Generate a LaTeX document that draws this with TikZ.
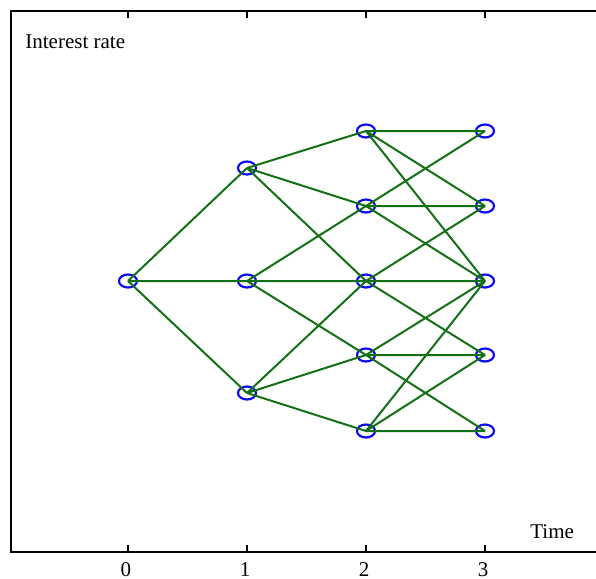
\documentclass[tikz,border=0pt]{standalone}
\usepackage{fontspec}
\setmainfont{Liberation Serif}
\usetikzlibrary{shapes.geometric}
\usepackage{xcolor}
\definecolor{branchgreen}{RGB}{20,112,20}
\definecolor{stateblue}{RGB}{10,10,245}

\begin{document}
\begin{tikzpicture}[x=0.5pt, y=-0.5pt,
    state/.style={draw=stateblue, ellipse, line width=1.1pt, minimum width=9pt,
                  minimum height=6.5pt, inner sep=0pt},
    branch/.style={draw=branchgreen, line width=1pt},
    axis/.style={draw=black, line width=1pt},
    lab/.style={font=\fontsize{10.5}{12}\selectfont, inner sep=0pt}
]
    \useasboundingbox (0,0) rectangle (596,579);

    % Frame of the plot, open on the right
    \draw[axis] (600,11) -| (11,552) -- (600,552);

    % Ticks and their labels at times 0..3
    \foreach \t/\x in {0/128, 1/247, 2/366, 3/485} {
        \draw[axis] (\x,552) -- (\x,545);
        \draw[axis] (\x,11) -- (\x,18);
        \node[lab, anchor=base] (tick\t) at (\x-2,576) {\t};
    }

    \node[lab, anchor=base west] (ratelabel) at (25,48) {Interest rate};
    \node[lab, anchor=base west] (timelabel) at (530,538) {Time};

    % States of the tree, one column per time step
    \node[state] (s0)   at (128,281) {};

    \node[state] (s1u)  at (247,168) {};
    \node[state] (s1m)  at (247,281) {};
    \node[state] (s1d)  at (247,393) {};

    \node[state] (s2uu) at (366,131) {};
    \node[state] (s2u)  at (366,206) {};
    \node[state] (s2m)  at (366,281) {};
    \node[state] (s2d)  at (366,355) {};
    \node[state] (s2dd) at (366,431) {};

    \node[state] (s3uu) at (485,131) {};
    \node[state] (s3u)  at (485,206) {};
    \node[state] (s3m)  at (485,281) {};
    \node[state] (s3d)  at (485,355) {};
    \node[state] (s3dd) at (485,431) {};

    % Branches from time 0 to 1
    \draw[branch] (s0.center) -- (s1u.center)
                  (s0.center) -- (s1m.center)
                  (s0.center) -- (s1d.center);

    % Branches from time 1 to 2
    \draw[branch] (s1u.center) -- (s2uu.center)
                  (s1u.center) -- (s2u.center)
                  (s1u.center) -- (s2m.center);
    \draw[branch] (s1m.center) -- (s2u.center)
                  (s1m.center) -- (s2m.center)
                  (s1m.center) -- (s2d.center);
    \draw[branch] (s1d.center) -- (s2m.center)
                  (s1d.center) -- (s2d.center)
                  (s1d.center) -- (s2dd.center);

    % Branches from time 2 to 3, bent at the edges of the tree
    \draw[branch] (s2uu.center) -- (s3uu.center)
                  (s2uu.center) -- (s3u.center)
                  (s2uu.center) -- (s3m.center);
    \draw[branch] (s2u.center) -- (s3uu.center)
                  (s2u.center) -- (s3u.center)
                  (s2u.center) -- (s3m.center);
    \draw[branch] (s2m.center) -- (s3u.center)
                  (s2m.center) -- (s3m.center)
                  (s2m.center) -- (s3d.center);
    \draw[branch] (s2d.center) -- (s3m.center)
                  (s2d.center) -- (s3d.center)
                  (s2d.center) -- (s3dd.center);
    \draw[branch] (s2dd.center) -- (s3m.center)
                  (s2dd.center) -- (s3d.center)
                  (s2dd.center) -- (s3dd.center);
\end{tikzpicture}
\end{document}
